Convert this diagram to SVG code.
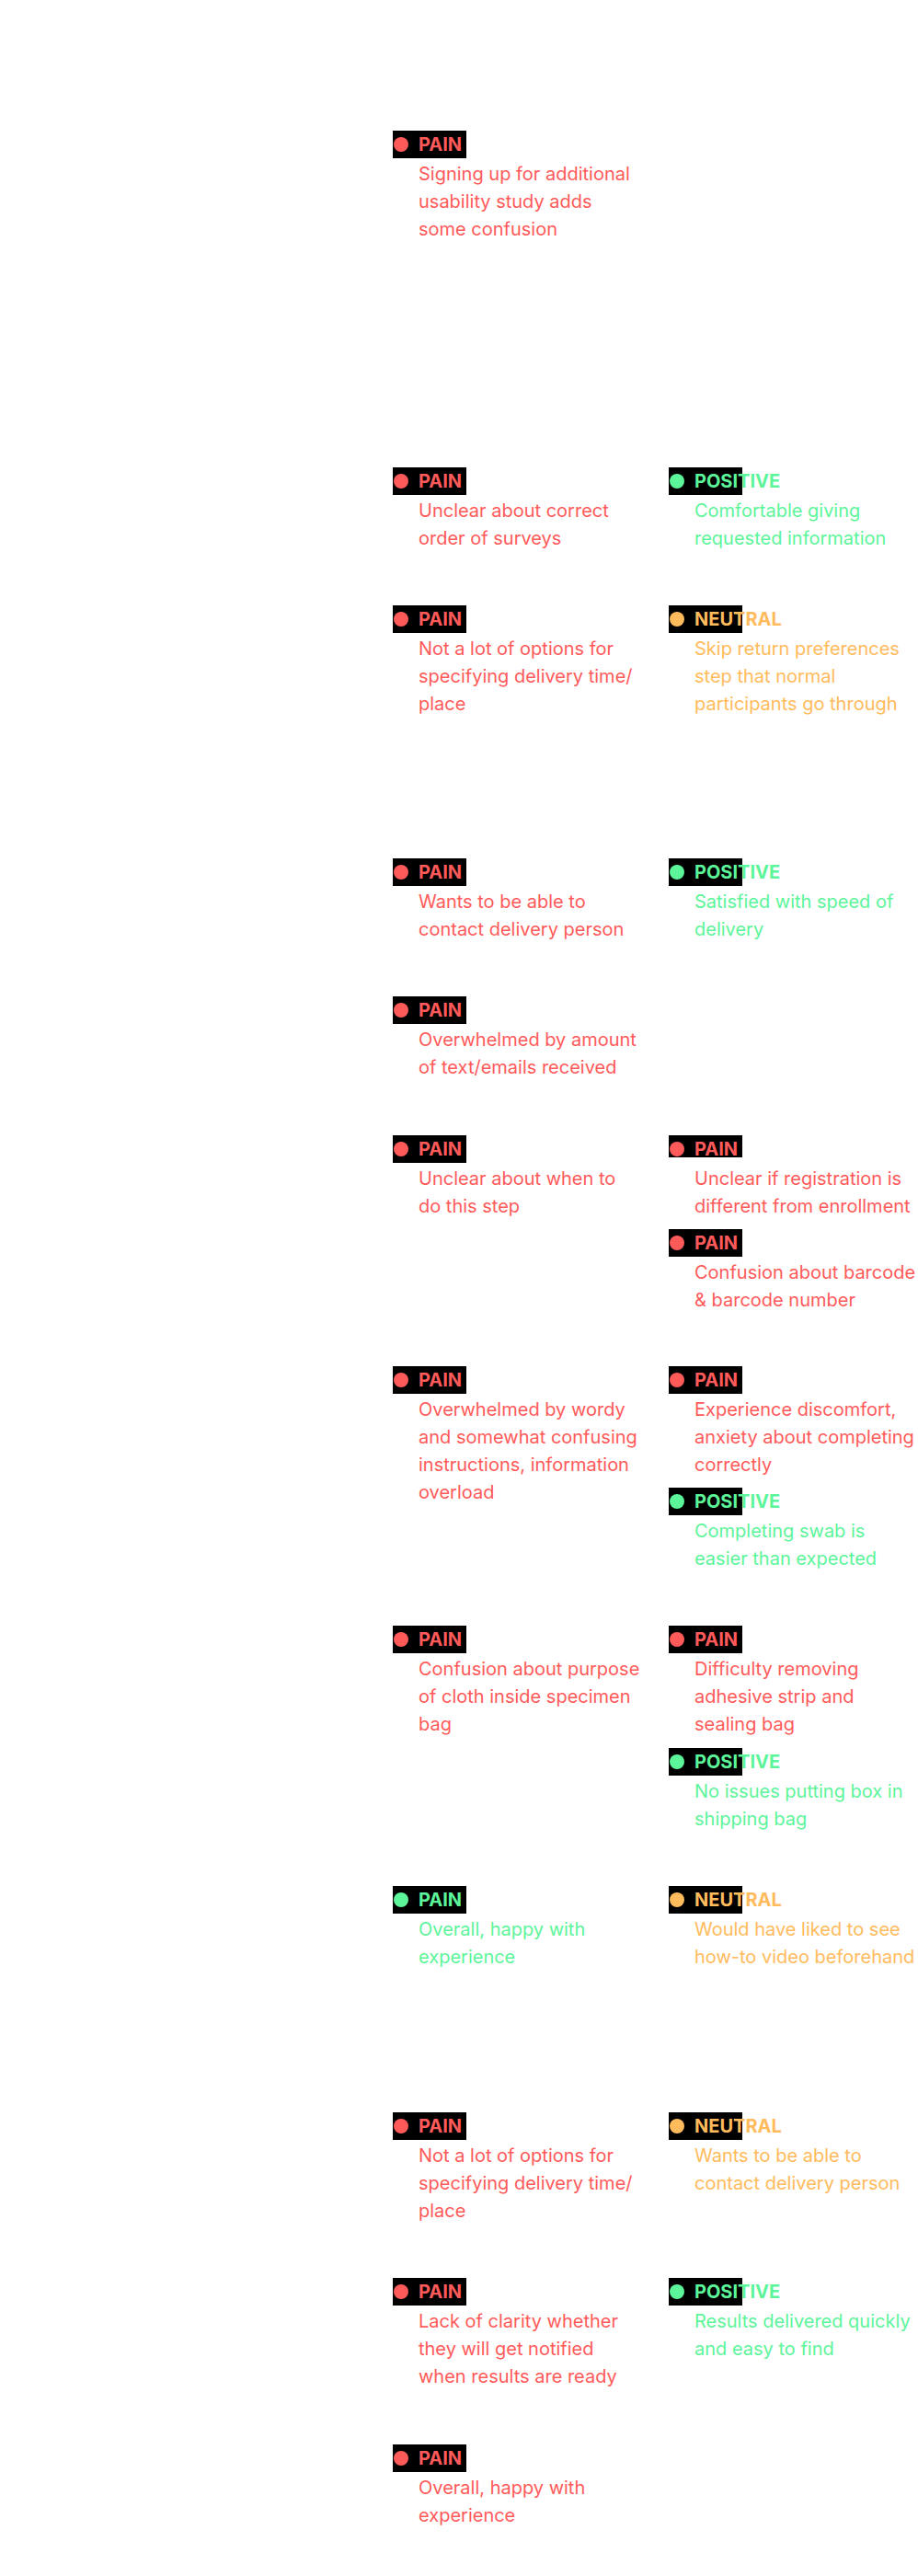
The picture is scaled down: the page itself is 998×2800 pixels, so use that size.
<svg xmlns="http://www.w3.org/2000/svg" width="998" height="2800" viewBox="0 0 998 2800">
<style>
.bg{fill:#000}
.lb{font-family:Inter,"Liberation Sans",sans-serif;font-size:20px;font-weight:700}
.tx{font-family:Inter,"Liberation Sans",sans-serif;font-size:20px}
.r{fill:#FF5A5A}.g{fill:#5CF59A}.o{fill:#FFBB5C}
</style>
<rect width="998" height="2800" fill="#fff"/>
<defs>
<g id="badge"><rect class="bg" x="0" y="-15" width="80" height="30"/></g>
</defs>
<g id="connectors"/>
<g id="n1" transform="translate(427,157)"><use href="#badge"/><circle class="r" cx="9" cy="0" r="8"/><text class="lb r" x="28" y="7">PAIN</text><text class="tx r"><tspan x="28" y="39">Signing up for additional</tspan><tspan x="28" y="69">usability study adds</tspan><tspan x="28" y="99">some confusion</tspan></text></g>
<g id="n2" transform="translate(427,523)"><use href="#badge"/><circle class="r" cx="9" cy="0" r="8"/><text class="lb r" x="28" y="7">PAIN</text><text class="tx r"><tspan x="28" y="39">Unclear about correct</tspan><tspan x="28" y="69">order of surveys</tspan></text></g>
<g id="n3" transform="translate(427,673)"><use href="#badge"/><circle class="r" cx="9" cy="0" r="8"/><text class="lb r" x="28" y="7">PAIN</text><text class="tx r"><tspan x="28" y="39">Not a lot of options for</tspan><tspan x="28" y="69">specifying delivery time/</tspan><tspan x="28" y="99">place</tspan></text></g>
<g id="n4" transform="translate(427,948)"><use href="#badge"/><circle class="r" cx="9" cy="0" r="8"/><text class="lb r" x="28" y="7">PAIN</text><text class="tx r"><tspan x="28" y="39">Wants to be able to</tspan><tspan x="28" y="69">contact delivery person</tspan></text></g>
<g id="n5" transform="translate(427,1098)"><use href="#badge"/><circle class="r" cx="9" cy="0" r="8"/><text class="lb r" x="28" y="7">PAIN</text><text class="tx r"><tspan x="28" y="39">Overwhelmed by amount</tspan><tspan x="28" y="69">of text/emails received</tspan></text></g>
<g id="n6" transform="translate(427,1249)"><use href="#badge"/><circle class="r" cx="9" cy="0" r="8"/><text class="lb r" x="28" y="7">PAIN</text><text class="tx r"><tspan x="28" y="39">Unclear about when to</tspan><tspan x="28" y="69">do this step</tspan></text></g>
<g id="n7" transform="translate(427,1500)"><use href="#badge"/><circle class="r" cx="9" cy="0" r="8"/><text class="lb r" x="28" y="7">PAIN</text><text class="tx r"><tspan x="28" y="39">Overwhelmed by wordy</tspan><tspan x="28" y="69">and somewhat confusing</tspan><tspan x="28" y="99">instructions, information</tspan><tspan x="28" y="129">overload</tspan></text></g>
<g id="n8" transform="translate(427,1782)"><use href="#badge"/><circle class="r" cx="9" cy="0" r="8"/><text class="lb r" x="28" y="7">PAIN</text><text class="tx r"><tspan x="28" y="39">Confusion about purpose</tspan><tspan x="28" y="69">of cloth inside specimen</tspan><tspan x="28" y="99">bag</tspan></text></g>
<g id="n9" transform="translate(427,2065)"><use href="#badge"/><circle class="g" cx="9" cy="0" r="8"/><text class="lb g" x="28" y="7">PAIN</text><text class="tx g"><tspan x="28" y="39">Overall, happy with</tspan><tspan x="28" y="69">experience</tspan></text></g>
<g id="n10" transform="translate(427,2311)"><use href="#badge"/><circle class="r" cx="9" cy="0" r="8"/><text class="lb r" x="28" y="7">PAIN</text><text class="tx r"><tspan x="28" y="39">Not a lot of options for</tspan><tspan x="28" y="69">specifying delivery time/</tspan><tspan x="28" y="99">place</tspan></text></g>
<g id="n11" transform="translate(427,2491)"><use href="#badge"/><circle class="r" cx="9" cy="0" r="8"/><text class="lb r" x="28" y="7">PAIN</text><text class="tx r"><tspan x="28" y="39">Lack of clarity whether</tspan><tspan x="28" y="69">they will get notified</tspan><tspan x="28" y="99">when results are ready</tspan></text></g>
<g id="n12" transform="translate(427,2672)"><use href="#badge"/><circle class="r" cx="9" cy="0" r="8"/><text class="lb r" x="28" y="7">PAIN</text><text class="tx r"><tspan x="28" y="39">Overall, happy with</tspan><tspan x="28" y="69">experience</tspan></text></g>
<g id="m1" transform="translate(727,523)"><use href="#badge"/><circle class="g" cx="9" cy="0" r="8"/><text class="lb g" x="28" y="7">POSITIVE</text><text class="tx g"><tspan x="28" y="39">Comfortable giving</tspan><tspan x="28" y="69">requested information</tspan></text></g>
<g id="m2" transform="translate(727,673)"><use href="#badge"/><circle class="o" cx="9" cy="0" r="8"/><text class="lb o" x="28" y="7">NEUTRAL</text><text class="tx o"><tspan x="28" y="39">Skip return preferences</tspan><tspan x="28" y="69">step that normal</tspan><tspan x="28" y="99">participants go through</tspan></text></g>
<g id="m3" transform="translate(727,948)"><use href="#badge"/><circle class="g" cx="9" cy="0" r="8"/><text class="lb g" x="28" y="7">POSITIVE</text><text class="tx g"><tspan x="28" y="39">Satisfied with speed of</tspan><tspan x="28" y="69">delivery</tspan></text></g>
<g id="m4" transform="translate(727,1249)"><rect class="bg" x="0" y="-15" width="80" height="24"/><circle class="r" cx="9" cy="0" r="8"/><text class="lb r" x="28" y="7">PAIN</text><text class="tx r"><tspan x="28" y="39">Unclear if registration is</tspan><tspan x="28" y="69">different from enrollment</tspan></text></g>
<g id="m5" transform="translate(727,1351)"><use href="#badge"/><circle class="r" cx="9" cy="0" r="8"/><text class="lb r" x="28" y="7">PAIN</text><text class="tx r"><tspan x="28" y="39">Confusion about barcode</tspan><tspan x="28" y="69">&amp; barcode number</tspan></text></g>
<g id="m6" transform="translate(727,1500)"><use href="#badge"/><circle class="r" cx="9" cy="0" r="8"/><text class="lb r" x="28" y="7">PAIN</text><text class="tx r"><tspan x="28" y="39">Experience discomfort,</tspan><tspan x="28" y="69">anxiety about completing</tspan><tspan x="28" y="99">correctly</tspan></text></g>
<g id="m7" transform="translate(727,1632)"><use href="#badge"/><circle class="g" cx="9" cy="0" r="8"/><text class="lb g" x="28" y="7">POSITIVE</text><text class="tx g"><tspan x="28" y="39">Completing swab is</tspan><tspan x="28" y="69">easier than expected</tspan></text></g>
<g id="m8" transform="translate(727,1782)"><use href="#badge"/><circle class="r" cx="9" cy="0" r="8"/><text class="lb r" x="28" y="7">PAIN</text><text class="tx r"><tspan x="28" y="39">Difficulty removing</tspan><tspan x="28" y="69">adhesive strip and</tspan><tspan x="28" y="99">sealing bag</tspan></text></g>
<g id="m9" transform="translate(727,1915)"><use href="#badge"/><circle class="g" cx="9" cy="0" r="8"/><text class="lb g" x="28" y="7">POSITIVE</text><text class="tx g"><tspan x="28" y="39">No issues putting box in</tspan><tspan x="28" y="69">shipping bag</tspan></text></g>
<g id="m10" transform="translate(727,2065)"><use href="#badge"/><circle class="o" cx="9" cy="0" r="8"/><text class="lb o" x="28" y="7">NEUTRAL</text><text class="tx o"><tspan x="28" y="39">Would have liked to see</tspan><tspan x="28" y="69">how-to video beforehand</tspan></text></g>
<g id="m11" transform="translate(727,2311)"><use href="#badge"/><circle class="o" cx="9" cy="0" r="8"/><text class="lb o" x="28" y="7">NEUTRAL</text><text class="tx o"><tspan x="28" y="39">Wants to be able to</tspan><tspan x="28" y="69">contact delivery person</tspan></text></g>
<g id="m12" transform="translate(727,2491)"><use href="#badge"/><circle class="g" cx="9" cy="0" r="8"/><text class="lb g" x="28" y="7">POSITIVE</text><text class="tx g"><tspan x="28" y="39">Results delivered quickly</tspan><tspan x="28" y="69">and easy to find</tspan></text></g>
</svg>
